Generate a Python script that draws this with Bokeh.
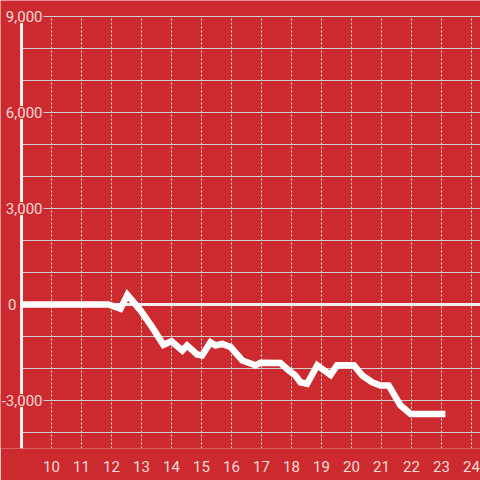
from bokeh.plotting import figure
from bokeh.models import FixedTicker, Label, Range1d, Grid
from bokeh.embed import file_html
from bokeh.resources import INLINE

# ---- data ----
days = [9.0, 11.9, 12.3, 12.53, 12.97, 13.35, 13.73, 14.0, 14.36, 14.52, 14.85, 15.02,
        15.3, 15.47, 15.69, 15.97, 16.36, 16.8, 16.97, 17.63, 17.91, 18.13, 18.3, 18.52,
        18.86, 19.0, 19.3, 19.52, 20.08, 20.36, 20.69, 20.97, 21.24, 21.63, 21.97, 23.13]
values = [0, 0, -135, 300, -190, -700, -1260, -1150, -1440, -1280, -1560, -1590,
          -1180, -1280, -1230, -1330, -1750, -1900, -1820, -1830, -2060, -2220, -2430, -2480,
          -1900, -2000, -2200, -1900, -1900, -2220, -2430, -2530, -2530, -3150, -3420, -3420]

x_ticks = list(range(10, 25))
y_grid = list(range(-4000, 9001, 1000))
y_label_values = [9000, 6000, 3000, -3000]
y_label_texts = ["9,000", "6,000", "3,000", "-3,000"]
zero_label = "0"

# axis extents
X_START, X_END = 8.3, 24.3          # visible x span
Y_MIN, Y_MAX = -4500, 9000          # grid / axis extent
Y_TOP = 9500                        # room above for top label

BG = "#cc2a2e"
TXT = "#f4dada"
FONT = "Roboto"

p = figure(width=480, height=480, output_backend="svg", toolbar_location=None,
           x_range=Range1d(X_START, X_END), y_range=Range1d(Y_MIN, Y_TOP),
           y_axis_location=None,
           min_border_left=0, min_border_right=0, min_border_top=0, min_border_bottom=32,
           background_fill_color=BG, border_fill_color=BG, outline_line_color=None)

x0 = days[0]

# grids
p.xgrid.ticker = FixedTicker(ticks=x_ticks)
p.xgrid.grid_line_color = "#e8e8e8"
p.xgrid.grid_line_dash = "2 2"
p.xgrid.grid_line_width = 1
p.xgrid.cross_bounds = (Y_MIN, Y_MAX)

p.ygrid.ticker = FixedTicker(ticks=y_grid)
p.ygrid.grid_line_color = "#cfcfcf"
p.ygrid.grid_line_width = 1
p.ygrid.cross_bounds = (x0, X_END)

zero_grid = Grid(dimension=1, ticker=FixedTicker(ticks=[0]), grid_line_color="#eeeeee",
                 grid_line_width=3, cross_bounds=(x0, X_END))
p.add_layout(zero_grid)

axis_line = Grid(dimension=0, ticker=FixedTicker(ticks=[x0]), grid_line_color="#eeeeee",
                 grid_line_width=3, cross_bounds=(Y_MIN, Y_MAX))
p.add_layout(axis_line)

# x axis
p.xaxis.ticker = FixedTicker(ticks=x_ticks)
p.xaxis.axis_line_color = None
p.xaxis.major_tick_line_color = None
p.xaxis.minor_tick_line_color = None
p.xaxis.major_label_text_color = TXT
p.xaxis.major_label_text_font = FONT
p.xaxis.major_label_text_font_size = "15px"
p.xaxis.major_label_standoff = 6

# data line
p.line(days, values, line_color="white", line_width=6.5, line_join="miter")

# y labels
for v, t in zip(y_label_values, y_label_texts):
    p.add_layout(Label(x=x0, y=v, text=t, x_offset=22, text_align="right",
                       text_baseline="middle", text_color=TXT, text_font=FONT,
                       text_font_size="15px", background_fill_color=BG, padding=1))
p.add_layout(Label(x=x0, y=0, text=zero_label, x_offset=-5, text_align="right",
                   text_baseline="middle", text_color=TXT, text_font=FONT,
                   text_font_size="15px"))

html = file_html(p, INLINE)
html = html.replace("<body>", '<body style="margin:0;background:#cc2a2e;">', 1)
open("out.html", "w").write(html)
